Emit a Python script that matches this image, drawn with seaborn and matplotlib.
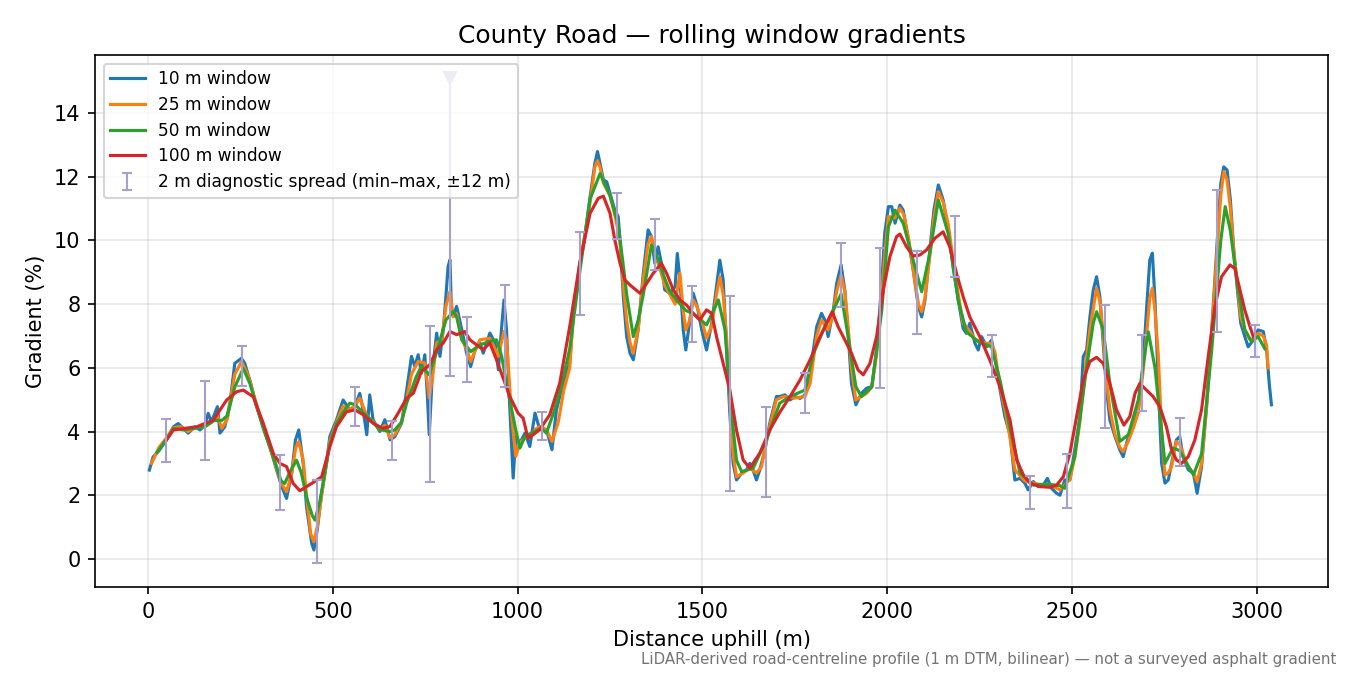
import numpy as np
import pandas as pd
import matplotlib
matplotlib.use("Agg")
import matplotlib.pyplot as plt
import seaborn as sns

# ---------------- data ----------------
d10 = [4, 14, 30, 50, 69, 82, 96, 109, 127, 141, 154, 163, 172, 188, 195, 208, 222, 235, 253, 262, 276, 294, 312, 330, 348, 362, 375, 389, 399, 408, 420, 429, 443, 449, 458, 470, 483, 492, 510, 528, 546, 560, 573, 582, 592, 600, 609, 627, 641, 655, 668, 686, 700, 713, 722, 731, 740, 749, 756, 761, 770, 781, 790, 799, 806, 812, 817, 821, 826, 835, 849, 862, 873, 885, 898, 907, 925, 939, 948, 957, 963, 970, 977, 984, 988, 995, 1006, 1020, 1033, 1047, 1060, 1078, 1093, 1105, 1123, 1132, 1141, 1150, 1168, 1182, 1196, 1209, 1216, 1223, 1232, 1241, 1250, 1263, 1272, 1277, 1286, 1295, 1304, 1313, 1326, 1340, 1353, 1362, 1371, 1380, 1389, 1398, 1412, 1426, 1432, 1439, 1448, 1455, 1466, 1475, 1486, 1498, 1511, 1525, 1538, 1547, 1556, 1565, 1574, 1583, 1592, 1606, 1619, 1628, 1637, 1646, 1655, 1669, 1682, 1700, 1709, 1723, 1737, 1750, 1764, 1777, 1791, 1800, 1809, 1822, 1831, 1840, 1854, 1863, 1875, 1885, 1894, 1903, 1915, 1930, 1944, 1958, 1971, 1985, 1993, 2003, 2012, 2021, 2034, 2043, 2057, 2070, 2084, 2093, 2102, 2115, 2126, 2138, 2151, 2165, 2178, 2192, 2205, 2214, 2223, 2237, 2246, 2255, 2269, 2282, 2291, 2305, 2318, 2332, 2345, 2359, 2372, 2381, 2395, 2408, 2422, 2433, 2444, 2458, 2467, 2480, 2494, 2507, 2521, 2530, 2539, 2548, 2557, 2566, 2575, 2584, 2593, 2602, 2616, 2629, 2638, 2652, 2665, 2679, 2692, 2701, 2710, 2717, 2724, 2733, 2742, 2751, 2760, 2769, 2782, 2791, 2800, 2814, 2828, 2838, 2850, 2864, 2877, 2891, 2902, 2910, 2919, 2928, 2937, 2947, 2956, 2967, 2976, 2990, 3003, 3017, 3026, 3033, 3039]
g10 = [2.79, 3.2, 3.4, 3.73, 4.15, 4.25, 4.1, 3.95, 4.15, 4.05, 4.2, 4.57, 4.3, 4.78, 3.95, 4.15, 4.9, 6.14, 6.3, 6.14, 5.6, 4.78, 4.15, 3.52, 2.8, 2.27, 1.9, 2.69, 3.73, 4.05, 3.0, 1.64, 0.49, 0.28, 0.91, 2.06, 3.0, 3.84, 4.36, 4.99, 4.68, 4.79, 5.2, 4.68, 3.9, 5.15, 4.37, 4.0, 4.37, 3.74, 3.84, 4.26, 5.31, 6.36, 6.04, 6.41, 5.83, 6.41, 5.1, 3.9, 5.94, 7.09, 6.36, 7.2, 8.24, 9.18, 9.39, 7.82, 7.61, 7.93, 7.2, 6.46, 6.04, 6.57, 6.78, 6.46, 7.09, 6.78, 5.94, 7.3, 8.13, 7.2, 5.2, 3.53, 2.54, 3.84, 3.64, 3.95, 3.53, 4.58, 4.06, 4.06, 3.43, 4.68, 5.52, 5.83, 6.15, 7.6, 9.28, 10.12, 11.37, 12.42, 12.79, 12.42, 11.9, 11.84, 11.48, 10.95, 10.75, 10.01, 8.23, 6.98, 6.46, 6.25, 7.19, 8.97, 10.33, 10.12, 9.28, 9.8, 9.28, 8.45, 8.34, 8.55, 9.59, 8.76, 7.19, 6.56, 7.5, 8.34, 7.92, 7.19, 6.56, 7.4, 8.55, 9.38, 8.76, 6.67, 4.57, 3.0, 2.48, 2.69, 2.79, 3.0, 2.79, 2.48, 2.79, 3.42, 4.26, 5.1, 5.1, 5.15, 4.99, 5.1, 5.04, 5.15, 5.72, 6.56, 7.29, 7.71, 7.5, 6.98, 7.82, 8.65, 9.23, 8.44, 7.08, 5.51, 4.84, 5.2, 5.36, 5.41, 6.56, 8.65, 10.22, 11.06, 11.06, 10.54, 11.11, 10.95, 10.01, 9.07, 7.92, 7.6, 8.13, 9.7, 10.95, 11.74, 11.27, 10.33, 9.17, 8.13, 7.24, 7.08, 7.4, 6.77, 6.56, 6.98, 6.66, 6.87, 6.35, 5.3, 4.47, 3.9, 2.48, 2.53, 2.38, 2.17, 2.43, 2.27, 2.32, 2.53, 2.22, 2.06, 2.0, 2.48, 2.48, 3.42, 4.47, 6.35, 6.56, 7.6, 8.44, 8.86, 8.23, 6.77, 5.3, 4.36, 3.84, 3.42, 3.21, 3.84, 4.15, 4.68, 6.14, 7.81, 9.39, 9.6, 8.13, 5.51, 3.0, 2.38, 2.48, 3.0, 3.74, 3.84, 3.21, 2.8, 2.69, 2.06, 2.9, 4.89, 7.08, 9.7, 11.79, 12.31, 12.21, 11.27, 9.7, 8.44, 7.4, 6.98, 6.66, 6.87, 7.19, 7.14, 6.56, 5.51, 4.84]

d25 = [10, 30, 50, 69, 90, 109, 127, 154, 172, 188, 200, 215, 235, 253, 270, 294, 312, 330, 348, 362, 375, 389, 400, 408, 420, 429, 440, 449, 458, 470, 483, 492, 510, 528, 546, 560, 573, 592, 610, 627, 641, 655, 668, 686, 700, 713, 731, 749, 761, 770, 781, 795, 806, 817, 826, 835, 849, 862, 873, 898, 925, 948, 963, 970, 984, 995, 1006, 1020, 1033, 1047, 1060, 1078, 1093, 1110, 1125, 1141, 1150, 1168, 1182, 1196, 1209, 1216, 1223, 1232, 1250, 1263, 1277, 1286, 1295, 1304, 1313, 1326, 1340, 1353, 1362, 1371, 1380, 1398, 1412, 1426, 1439, 1448, 1455, 1466, 1475, 1486, 1498, 1511, 1525, 1538, 1547, 1556, 1565, 1574, 1583, 1592, 1610, 1628, 1646, 1660, 1669, 1685, 1700, 1720, 1750, 1777, 1791, 1809, 1822, 1840, 1852, 1863, 1875, 1885, 1894, 1903, 1915, 1930, 1944, 1958, 1971, 1985, 1995, 2003, 2020, 2034, 2045, 2057, 2070, 2084, 2093, 2102, 2115, 2126, 2138, 2151, 2165, 2178, 2192, 2205, 2220, 2237, 2255, 2269, 2282, 2291, 2305, 2318, 2332, 2345, 2372, 2408, 2444, 2467, 2494, 2507, 2521, 2535, 2548, 2566, 2575, 2584, 2593, 2602, 2616, 2629, 2638, 2652, 2665, 2679, 2692, 2701, 2710, 2717, 2724, 2733, 2742, 2751, 2760, 2769, 2782, 2791, 2800, 2814, 2828, 2838, 2850, 2864, 2877, 2891, 2902, 2910, 2919, 2928, 2937, 2947, 2956, 2967, 2980, 2990, 3003, 3017, 3026, 3030]
g25 = [3.0, 3.5, 3.8, 4.12, 4.15, 4.0, 4.12, 4.15, 4.3, 4.5, 4.1, 4.4, 5.8, 6.19, 5.8, 4.85, 4.15, 3.5, 2.85, 2.35, 2.11, 2.7, 3.5, 3.68, 3.1, 2.0, 0.8, 0.54, 1.0, 2.0, 3.0, 3.7, 4.3, 4.8, 4.7, 4.8, 5.05, 4.5, 4.3, 4.05, 4.2, 3.8, 3.9, 4.3, 5.0, 5.8, 6.2, 6.15, 5.05, 5.7, 6.78, 6.9, 7.93, 8.4, 7.6, 7.7, 6.88, 6.6, 6.2, 6.88, 6.93, 6.36, 7.14, 6.88, 4.47, 3.22, 3.64, 3.8, 3.84, 4.06, 4.16, 4.06, 3.69, 4.3, 5.3, 6.0, 7.5, 9.2, 10.2, 11.2, 12.3, 12.5, 12.3, 11.8, 11.4, 10.8, 10.0, 8.6, 7.5, 6.8, 6.46, 7.2, 8.8, 9.9, 10.12, 9.6, 9.3, 8.6, 8.3, 8.0, 8.97, 7.8, 7.19, 7.5, 8.13, 7.9, 7.5, 6.93, 7.3, 8.3, 8.86, 8.3, 7.0, 5.0, 3.3, 2.58, 2.7, 2.85, 2.7, 2.9, 3.5, 4.3, 5.0, 5.1, 5.05, 5.1, 5.5, 7.0, 7.5, 7.19, 7.6, 8.4, 8.92, 8.4, 7.3, 6.0, 4.99, 5.1, 5.2, 5.4, 6.4, 8.3, 9.8, 10.75, 10.7, 11.01, 10.8, 10.1, 9.1, 8.0, 7.76, 8.2, 9.5, 10.7, 11.53, 11.2, 10.5, 9.4, 8.3, 7.4, 7.2, 6.9, 6.8, 6.77, 6.75, 6.5, 5.4, 4.7, 3.8, 2.8, 2.45, 2.35, 2.3, 2.17, 2.5, 3.2, 4.3, 5.9, 7.2, 8.5, 8.1, 7.0, 5.6, 4.7, 3.9, 3.5, 3.37, 3.7, 4.1, 4.6, 5.9, 7.0, 8.2, 8.5, 7.8, 6.4, 4.0, 2.64, 2.7, 2.9, 3.69, 3.6, 3.3, 2.9, 2.7, 2.43, 3.0, 4.8, 7.0, 9.5, 11.4, 12.16, 11.9, 11.0, 9.7, 8.6, 7.6, 7.2, 6.9, 6.9, 7.08, 7.0, 6.7, 6.0]

d50 = [25, 50, 69, 96, 127, 154, 180, 200, 215, 235, 258, 276, 294, 312, 330, 348, 360, 370, 385, 402, 415, 430, 445, 452, 465, 480, 492, 510, 528, 546, 560, 573, 600, 627, 655, 668, 686, 700, 713, 725, 740, 761, 781, 806, 826, 835, 849, 873, 898, 925, 943, 957, 970, 977, 995, 1006, 1020, 1037, 1064, 1078, 1100, 1120, 1141, 1150, 1168, 1196, 1223, 1250, 1272, 1286, 1295, 1313, 1326, 1340, 1362, 1380, 1398, 1412, 1432, 1455, 1475, 1495, 1511, 1530, 1543, 1561, 1574, 1592, 1606, 1637, 1673, 1709, 1737, 1777, 1800, 1831, 1863, 1875, 1894, 1915, 1930, 1958, 1985, 2003, 2021, 2043, 2070, 2093, 2115, 2138, 2165, 2192, 2214, 2246, 2282, 2305, 2332, 2359, 2395, 2433, 2467, 2480, 2507, 2539, 2557, 2566, 2584, 2602, 2620, 2629, 2652, 2679, 2701, 2706, 2724, 2742, 2751, 2773, 2791, 2810, 2828, 2850, 2877, 2902, 2914, 2928, 2947, 2967, 2985, 3003, 3021]
g50 = [3.35, 3.75, 4.1, 4.05, 4.1, 4.15, 4.35, 4.35, 4.5, 5.4, 5.98, 5.5, 4.8, 4.1, 3.5, 2.9, 2.45, 2.37, 2.75, 3.1, 2.7, 1.9, 1.35, 1.22, 1.8, 2.8, 3.6, 4.25, 4.6, 4.89, 4.85, 4.7, 4.4, 4.06, 4.0, 4.05, 4.3, 4.9, 5.3, 5.7, 6.05, 5.78, 6.5, 7.5, 7.77, 7.6, 6.88, 6.51, 6.72, 6.83, 6.88, 6.36, 5.5, 5.1, 4.05, 3.48, 3.84, 3.95, 4.1, 3.95, 4.68, 5.5, 6.6, 7.4, 9.0, 11.3, 12.1, 11.4, 10.5, 9.2, 8.3, 6.98, 7.5, 8.3, 9.86, 9.4, 8.8, 8.4, 8.1, 7.8, 7.7, 7.5, 7.35, 7.8, 8.13, 7.19, 5.1, 3.1, 2.74, 2.85, 3.74, 4.89, 5.1, 5.3, 6.45, 7.29, 8.03, 8.32, 6.98, 5.41, 5.1, 5.4, 7.8, 10.43, 10.95, 10.54, 9.38, 8.39, 9.6, 11.27, 10.2, 8.1, 7.13, 6.82, 6.66, 5.6, 4.1, 2.7, 2.32, 2.35, 2.3, 2.22, 3.2, 6.0, 7.4, 7.76, 7.2, 5.5, 4.3, 3.69, 3.9, 5.0, 6.8, 7.13, 6.0, 4.0, 3.0, 3.48, 3.4, 3.0, 2.64, 3.3, 6.5, 10.0, 11.06, 10.3, 8.6, 7.2, 6.82, 6.98, 6.6]

d100 = [50, 69, 100, 132, 177, 213, 240, 258, 285, 312, 339, 357, 375, 393, 411, 429, 447, 470, 492, 510, 537, 560, 582, 609, 636, 655, 677, 700, 718, 740, 763, 781, 799, 817, 835, 857, 871, 889, 907, 925, 943, 961, 979, 1001, 1015, 1028, 1042, 1060, 1087, 1114, 1141, 1168, 1196, 1218, 1232, 1250, 1263, 1277, 1290, 1304, 1331, 1349, 1367, 1389, 1403, 1421, 1439, 1457, 1475, 1493, 1511, 1525, 1538, 1556, 1574, 1592, 1610, 1628, 1655, 1682, 1709, 1737, 1764, 1791, 1818, 1836, 1851, 1867, 1885, 1903, 1921, 1935, 1953, 1971, 1989, 2007, 2025, 2034, 2052, 2070, 2088, 2106, 2129, 2151, 2169, 2187, 2205, 2223, 2250, 2277, 2305, 2332, 2350, 2368, 2386, 2413, 2440, 2458, 2476, 2494, 2512, 2530, 2548, 2566, 2584, 2602, 2620, 2640, 2656, 2670, 2683, 2701, 2719, 2737, 2755, 2769, 2782, 2796, 2814, 2832, 2850, 2868, 2886, 2904, 2927, 2940, 2954, 2967, 2981, 2990]
g100 = [3.73, 4.05, 4.1, 4.15, 4.36, 4.99, 5.25, 5.3, 5.09, 4.26, 3.32, 3.0, 2.9, 2.37, 2.14, 2.27, 2.4, 2.58, 3.52, 4.15, 4.62, 4.68, 4.53, 4.26, 4.1, 4.16, 4.58, 5.05, 5.2, 5.89, 6.1, 6.57, 6.78, 7.14, 7.04, 7.14, 6.88, 6.72, 6.57, 6.78, 6.25, 5.68, 5.1, 4.58, 4.42, 3.79, 3.9, 4.06, 4.53, 5.52, 7.3, 9.28, 10.85, 11.32, 11.39, 10.85, 10.01, 9.28, 8.76, 8.6, 8.34, 8.65, 8.97, 9.28, 8.97, 8.45, 8.13, 7.97, 7.71, 7.5, 7.82, 7.71, 6.98, 6.14, 5.31, 4.05, 3.11, 2.85, 3.32, 4.05, 4.6, 5.1, 5.62, 6.25, 6.98, 7.4, 7.76, 7.29, 6.88, 6.46, 5.93, 5.78, 6.14, 6.98, 8.44, 9.49, 10.12, 10.2, 9.8, 9.51, 9.54, 9.7, 10.07, 10.27, 9.8, 8.97, 8.24, 7.6, 6.98, 6.25, 5.4, 4.36, 3.11, 2.64, 2.38, 2.27, 2.25, 2.32, 2.58, 3.32, 4.47, 5.62, 6.2, 6.33, 6.14, 5.51, 4.68, 4.2, 4.47, 5.2, 5.51, 5.3, 5.1, 4.78, 4.15, 3.42, 3.11, 3.0, 3.21, 3.74, 4.68, 6.35, 7.92, 8.86, 9.23, 9.12, 8.44, 7.81, 7.29, 6.98]

# 2 m diagnostic spread (min / max) at sample stations
spread_x = [50, 154, 254, 357, 458, 560, 659, 763, 862, 965, 1066, 1168, 1268, 1371, 1471, 1574, 1673, 1777, 1876, 1980, 2079, 2183, 2282, 2386, 2485, 2589, 2688, 2791, 2891, 2994]
spread_lo = [3.04, 3.11, 5.43, 1.54, -0.12, 4.17, 3.12, 2.43, 5.54, 5.41, 3.74, 7.66, 10.03, 9.07, 6.82, 2.14, 1.93, 4.59, 7.92, 5.38, 7.07, 8.86, 5.72, 1.56, 1.59, 4.12, 4.63, 2.92, 7.14, 6.35]
spread_hi = [4.39, 5.59, 6.69, 3.25, 2.48, 5.41, 4.34, 7.30, 7.59, 8.60, 4.62, 10.27, 11.50, 10.67, 8.58, 8.27, 4.78, 5.83, 9.93, 9.77, 9.67, 10.77, 7.03, 2.61, 3.30, 7.97, 7.03, 4.41, 11.58, 7.36]
# station whose maximum runs off the top of the plot
off_x = [817]
off_lo = [5.73]
off_top = [15.1]

windows = ["10 m window", "25 m window", "50 m window", "100 m window"]
colors = ["#1f77b4", "#ff7f0e", "#2ca02c", "#d62728"]

frames = []
for name, d, g in zip(windows, [d10, d25, d50, d100], [g10, g25, g50, g100]):
    frames.append(pd.DataFrame({"dist": d, "grad": g, "window": name}))
df = pd.concat(frames, ignore_index=True)

# ---------------- plot ----------------
fig, ax = plt.subplots(figsize=(9, 4.5), dpi=150)
fig.subplots_adjust(left=0.0704, right=0.9837, top=0.9185, bottom=0.1304)

for name, col in zip(windows, colors):
    sub = df[df["window"] == name]
    sns.lineplot(data=sub, x="dist", y="grad", ax=ax, color=col, lw=1.5,
                 estimator=None, errorbar=None, label=name)

ecol = "#a89fcc"
mid = [(a + b) / 2 for a, b in zip(spread_lo, spread_hi)]
yerr = [[m - a for m, a in zip(mid, spread_lo)], [b - m for m, b in zip(mid, spread_hi)]]
ax.errorbar(spread_x, mid, yerr=yerr, fmt="none", ecolor=ecol, elinewidth=1.0,
            capsize=2.2, capthick=1.0, zorder=3,
            label="2 m diagnostic spread (min\u2013max, \u00b112 m)")
ax.vlines(off_x, off_lo, off_top, color=ecol, lw=1.0, zorder=3)
ax.plot(off_x, off_lo, marker="_", ms=4.4, mew=1.0, color=ecol, ls="none", zorder=3)
ax.plot(off_x, off_top, marker="v", ms=6, color=ecol, ls="none", zorder=3)

ax.set_xlim(-143, 3192)
ax.set_ylim(-0.88, 15.82)
ax.set_xticks([0, 500, 1000, 1500, 2000, 2500, 3000])
ax.set_yticks([0, 2, 4, 6, 8, 10, 12, 14])
ax.grid(True, alpha=0.3)
ax.set_axisbelow(True)
ax.set_title("County Road \u2014 rolling window gradients", fontsize=12)
ax.set_xlabel("Distance uphill (m)", fontsize=10)
ax.set_ylabel("Gradient (%)", fontsize=10)
ax.legend(loc="upper left", fontsize=8.2, labelspacing=0.45)

fig.text(0.99, 0.012,
         "LiDAR-derived road-centreline profile (1 m DTM, bilinear) \u2014 not a surveyed asphalt gradient",
         ha="right", va="bottom", fontsize=7.2, color="0.45")

fig.savefig("out.png", dpi=150)
